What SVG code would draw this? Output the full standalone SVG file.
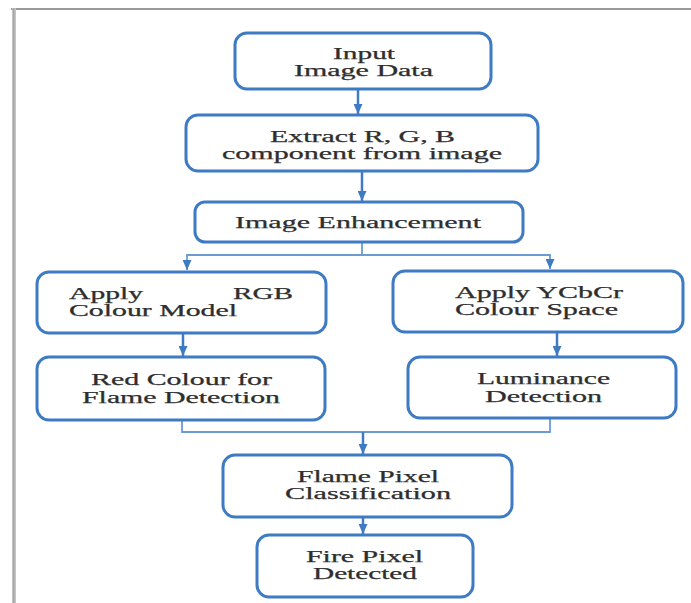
<svg xmlns="http://www.w3.org/2000/svg" width="691" height="603" viewBox="0 0 691 603">
<defs>
<style>
.box{fill:#ffffff;stroke:#3f7bc3;stroke-width:3}
.t{font-family:"Liberation Serif","Times New Roman",serif;font-size:16px;fill:#2e2e2e;stroke:#2e2e2e;stroke-width:0.25}
.c{fill:none;stroke:#3f7bc3;stroke-width:2.5}
.e{fill:none;stroke:#6b9bd3;stroke-width:1.8}
</style>
<marker id="ah" markerUnits="userSpaceOnUse" markerWidth="11" markerHeight="9" refX="10" refY="4.5" orient="auto">
<path d="M0,0 L10,4.5 L0,9 z" fill="#3f7bc3"/>
</marker>
</defs>
<rect width="691" height="603" fill="#ffffff"/>
<g id="frame">
<rect x="11" y="8" width="680" height="2" fill="#9a9a9a"/>
<rect x="12" y="8" width="4" height="595" fill="#c4c4c4"/>
<rect x="13" y="8" width="1.5" height="595" fill="#a6a6a6"/>
</g>
<g id="connectors">
<line class="c" x1="358" y1="89" x2="358" y2="114" marker-end="url(#ah)"/>
<line class="c" x1="362" y1="171" x2="362" y2="201" marker-end="url(#ah)"/>
<path class="e" d="M362 242 V255 H187 V270" marker-end="url(#ah)"/>
<path class="e" d="M362 255 H550 V269" marker-end="url(#ah)"/>
<line class="c" x1="183" y1="333" x2="183" y2="356" marker-end="url(#ah)"/>
<line class="c" x1="557" y1="332" x2="557" y2="356" marker-end="url(#ah)"/>
<path class="e" d="M182 420 V432 H550 V418"/>
<line class="c" x1="363" y1="432" x2="363" y2="454" marker-end="url(#ah)"/>
<line class="c" x1="363" y1="517" x2="363" y2="534" marker-end="url(#ah)"/>
</g>
<g id="n1">
<rect class="box" x="235" y="33" width="256" height="56" rx="12"/>
<text class="t"><tspan x="333" y="59" textLength="62" lengthAdjust="spacingAndGlyphs">Input</tspan><tspan x="294" y="76" textLength="139" lengthAdjust="spacingAndGlyphs">Image Data</tspan></text>
</g>
<g id="n2">
<rect class="box" x="186" y="115" width="352" height="56" rx="12"/>
<text class="t"><tspan x="270" y="142" textLength="185" lengthAdjust="spacingAndGlyphs">Extract R, G, B</tspan><tspan x="222" y="159" textLength="280" lengthAdjust="spacingAndGlyphs">component from image</tspan></text>
</g>
<g id="n3">
<rect class="box" x="195" y="202" width="328" height="40" rx="10"/>
<text class="t" x="235" y="228" textLength="246" lengthAdjust="spacingAndGlyphs" style="font-size:17px">Image Enhancement</text>
</g>
<g id="n4">
<rect class="box" x="37" y="272" width="289" height="61" rx="12"/>
<text class="t"><tspan x="69" y="299" textLength="74" lengthAdjust="spacingAndGlyphs">Apply</tspan> <tspan x="233" y="299" textLength="60" lengthAdjust="spacingAndGlyphs">RGB</tspan><tspan x="69" y="316" textLength="168" lengthAdjust="spacingAndGlyphs">Colour Model</tspan></text>
</g>
<g id="n5">
<rect class="box" x="393" y="271" width="290" height="61" rx="12"/>
<text class="t"><tspan x="455" y="298" textLength="168" lengthAdjust="spacingAndGlyphs">Apply YCbCr</tspan><tspan x="455" y="315" textLength="163" lengthAdjust="spacingAndGlyphs">Colour Space</tspan></text>
</g>
<g id="n6">
<rect class="box" x="37" y="357" width="288" height="63" rx="12"/>
<text class="t"><tspan x="91" y="385" textLength="181" lengthAdjust="spacingAndGlyphs">Red Colour for</tspan><tspan x="82" y="403" textLength="198" lengthAdjust="spacingAndGlyphs">Flame Detection</tspan></text>
</g>
<g id="n7">
<rect class="box" x="408" y="357" width="268" height="61" rx="12"/>
<text class="t"><tspan x="477" y="384" textLength="133" lengthAdjust="spacingAndGlyphs">Luminance</tspan><tspan x="485" y="402" textLength="117" lengthAdjust="spacingAndGlyphs">Detection</tspan></text>
</g>
<g id="n8">
<rect class="box" x="223" y="455" width="289" height="62" rx="12"/>
<text class="t"><tspan x="297" y="482" textLength="142" lengthAdjust="spacingAndGlyphs">Flame Pixel</tspan><tspan x="285" y="499" textLength="166" lengthAdjust="spacingAndGlyphs">Classification</tspan></text>
</g>
<g id="n9">
<rect class="box" x="257" y="535" width="216" height="62" rx="12"/>
<text class="t"><tspan x="306" y="562" textLength="117" lengthAdjust="spacingAndGlyphs">Fire Pixel</tspan><tspan x="313" y="579" textLength="104" lengthAdjust="spacingAndGlyphs">Detected</tspan></text>
</g>
</svg>
